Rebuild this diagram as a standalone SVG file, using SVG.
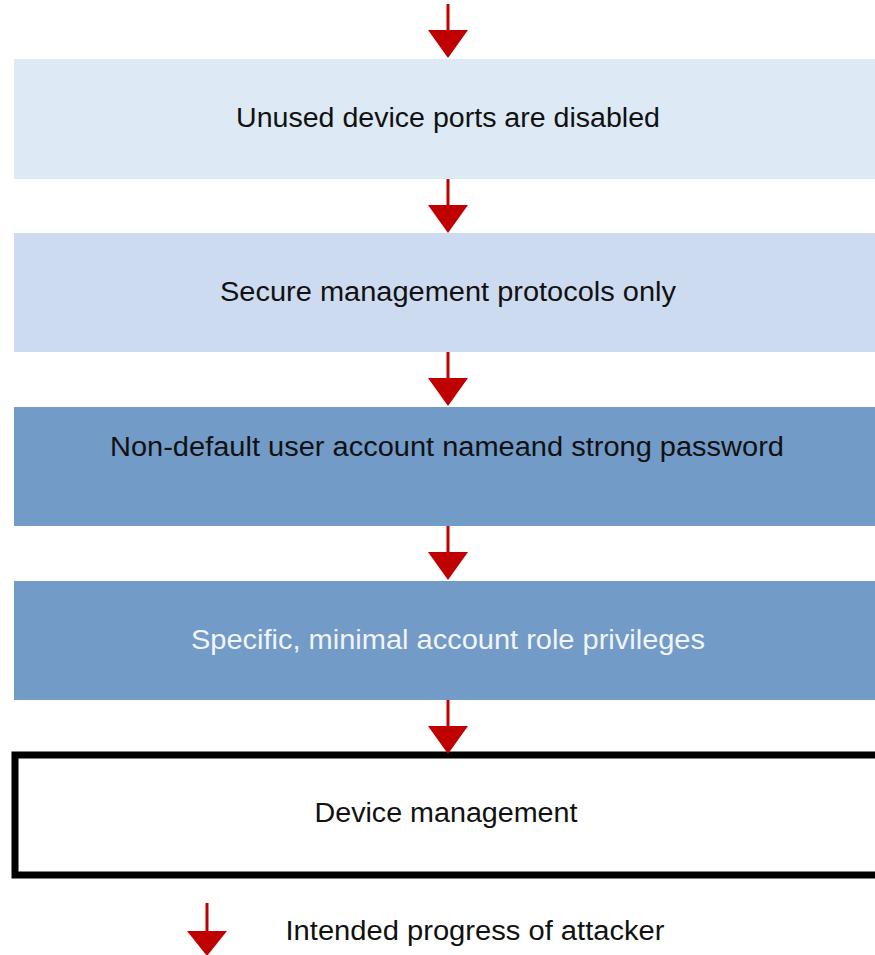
<svg xmlns="http://www.w3.org/2000/svg" width="875" height="955" viewBox="0 0 875 955">
  <style>
    .lbl { font-family: "Liberation Sans", Arial, sans-serif; font-size: 27px; text-anchor: middle; fill: #111111; }
    .lite { fill: #F2F4F8; }
    .shaft { stroke: #C00000; stroke-width: 3; fill: none; }
    .head { fill: #C00000; }
  </style>
  <defs>
    <g id="arrow">
      <line class="shaft" x1="0" y1="0" x2="0" y2="27"/>
      <polygon class="head" points="-20,26 20,26 0,54"/>
    </g>
  </defs>
  <rect width="875" height="955" fill="#FFFFFF"/>

  <g id="node-ports">
    <rect x="14" y="59" width="870" height="120" fill="#DDEAF6"/>
    <text class="lbl" x="448" y="127" textLength="424" lengthAdjust="spacingAndGlyphs">Unused device ports are disabled</text>
  </g>
  <g id="node-protocols">
    <rect x="14" y="233" width="870" height="119" fill="#CDDBF0"/>
    <text class="lbl" x="448" y="301" textLength="456" lengthAdjust="spacingAndGlyphs">Secure management protocols only</text>
  </g>
  <g id="node-account">
    <rect x="14" y="407" width="870" height="119" fill="#729BC8"/>
    <text class="lbl" x="447" y="456" textLength="674" lengthAdjust="spacingAndGlyphs">Non-default user account nameand strong password</text>
  </g>
  <g id="node-privileges">
    <rect x="14" y="581" width="870" height="119" fill="#729BC8"/>
    <text class="lbl lite" x="448" y="649" textLength="514" lengthAdjust="spacingAndGlyphs">Specific, minimal account role privileges</text>
  </g>
  <g id="node-management">
    <rect x="15" y="755" width="880" height="120" fill="#FFFFFF" stroke="#000000" stroke-width="7"/>
    <text class="lbl" x="446" y="822" textLength="263" lengthAdjust="spacingAndGlyphs">Device management</text>
  </g>

  <g id="connectors">
    <use href="#arrow" x="448" y="4"/>
    <use href="#arrow" x="448" y="179"/>
    <use href="#arrow" x="448" y="352"/>
    <use href="#arrow" x="448" y="526"/>
    <use href="#arrow" x="448" y="700"/>
  </g>

  <g id="legend">
    <line class="shaft" x1="207" y1="903" x2="207" y2="932"/>
    <polygon class="head" points="187,931 227,931 207,956"/>
    <text class="lbl" x="475" y="940" textLength="379" lengthAdjust="spacingAndGlyphs">Intended progress of attacker</text>
  </g>
</svg>
